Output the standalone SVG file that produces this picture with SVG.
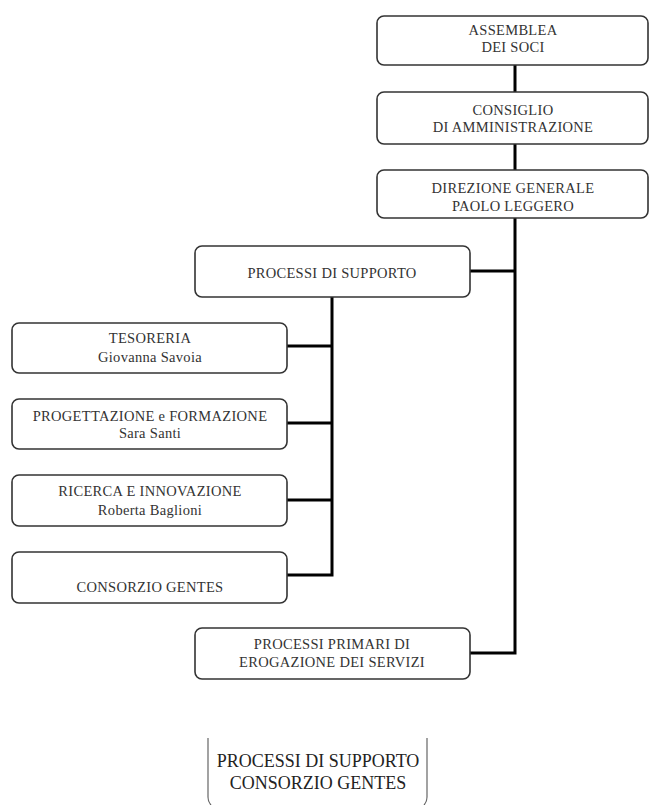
<svg xmlns="http://www.w3.org/2000/svg" width="653" height="805" viewBox="0 0 653 805">
<style>
.box{fill:#fff;stroke:#333;stroke-width:1.6}
.t{font-family:"Liberation Serif","Times New Roman",serif;font-size:14.5px;letter-spacing:0.3px;fill:#333;text-anchor:middle}
.c{fill:none;stroke:#000;stroke-width:3}
.b{font-family:"Liberation Serif","Times New Roman",serif;font-size:18px;fill:#222;text-anchor:middle}
.br{fill:none;stroke:#666;stroke-width:1.2}
</style>
<rect width="653" height="805" fill="#fff"/>
<g id="connectors">
<path class="c" d="M515 65V92M515 144V170M515 218V653H470M515 271H470"/>
<path class="c" d="M332 297V575H287M332 346H287M332 423H287M332 500H287"/>
</g>
<g id="assemblea"><rect class="box" x="377" y="16" width="271" height="49" rx="7"/><text class="t" x="513" y="35">ASSEMBLEA</text><text class="t" x="513" y="52">DEI SOCI</text></g>
<g id="consiglio"><rect class="box" x="377" y="92" width="271" height="52" rx="7"/><text class="t" x="513" y="115">CONSIGLIO</text><text class="t" x="513" y="132">DI AMMINISTRAZIONE</text></g>
<g id="direzione"><rect class="box" x="377" y="170" width="271" height="48" rx="7"/><text class="t" x="513" y="193">DIREZIONE GENERALE</text><text class="t" x="513" y="211">PAOLO LEGGERO</text></g>
<g id="supporto"><rect class="box" x="195" y="246" width="275" height="51" rx="7"/><text class="t" x="332" y="278">PROCESSI DI SUPPORTO</text></g>
<g id="tesoreria"><rect class="box" x="12" y="323" width="275" height="50" rx="7"/><text class="t" x="150" y="343">TESORERIA</text><text class="t" x="150" y="362">Giovanna Savoia</text></g>
<g id="progettazione"><rect class="box" x="12" y="399" width="275" height="50" rx="7"/><text class="t" x="150" y="421">PROGETTAZIONE e FORMAZIONE</text><text class="t" x="150" y="438">Sara Santi</text></g>
<g id="ricerca"><rect class="box" x="12" y="475" width="275" height="51" rx="7"/><text class="t" x="150" y="496">RICERCA E INNOVAZIONE</text><text class="t" x="150" y="515">Roberta Baglioni</text></g>
<g id="consorzio"><rect class="box" x="12" y="552" width="275" height="51" rx="7"/><text class="t" x="150" y="592">CONSORZIO GENTES</text></g>
<g id="primari"><rect class="box" x="195" y="628" width="275" height="51" rx="7"/><text class="t" x="332" y="649">PROCESSI PRIMARI DI</text><text class="t" x="332" y="667">EROGAZIONE DEI SERVIZI</text></g>
<g id="legenda">
<path class="br" d="M208 738V797Q208 802 211 805M427 738V797Q427 802 424 805"/>
<text class="b" x="318" y="767">PROCESSI DI SUPPORTO</text>
<text class="b" x="318" y="789">CONSORZIO GENTES</text>
</g>
</svg>
